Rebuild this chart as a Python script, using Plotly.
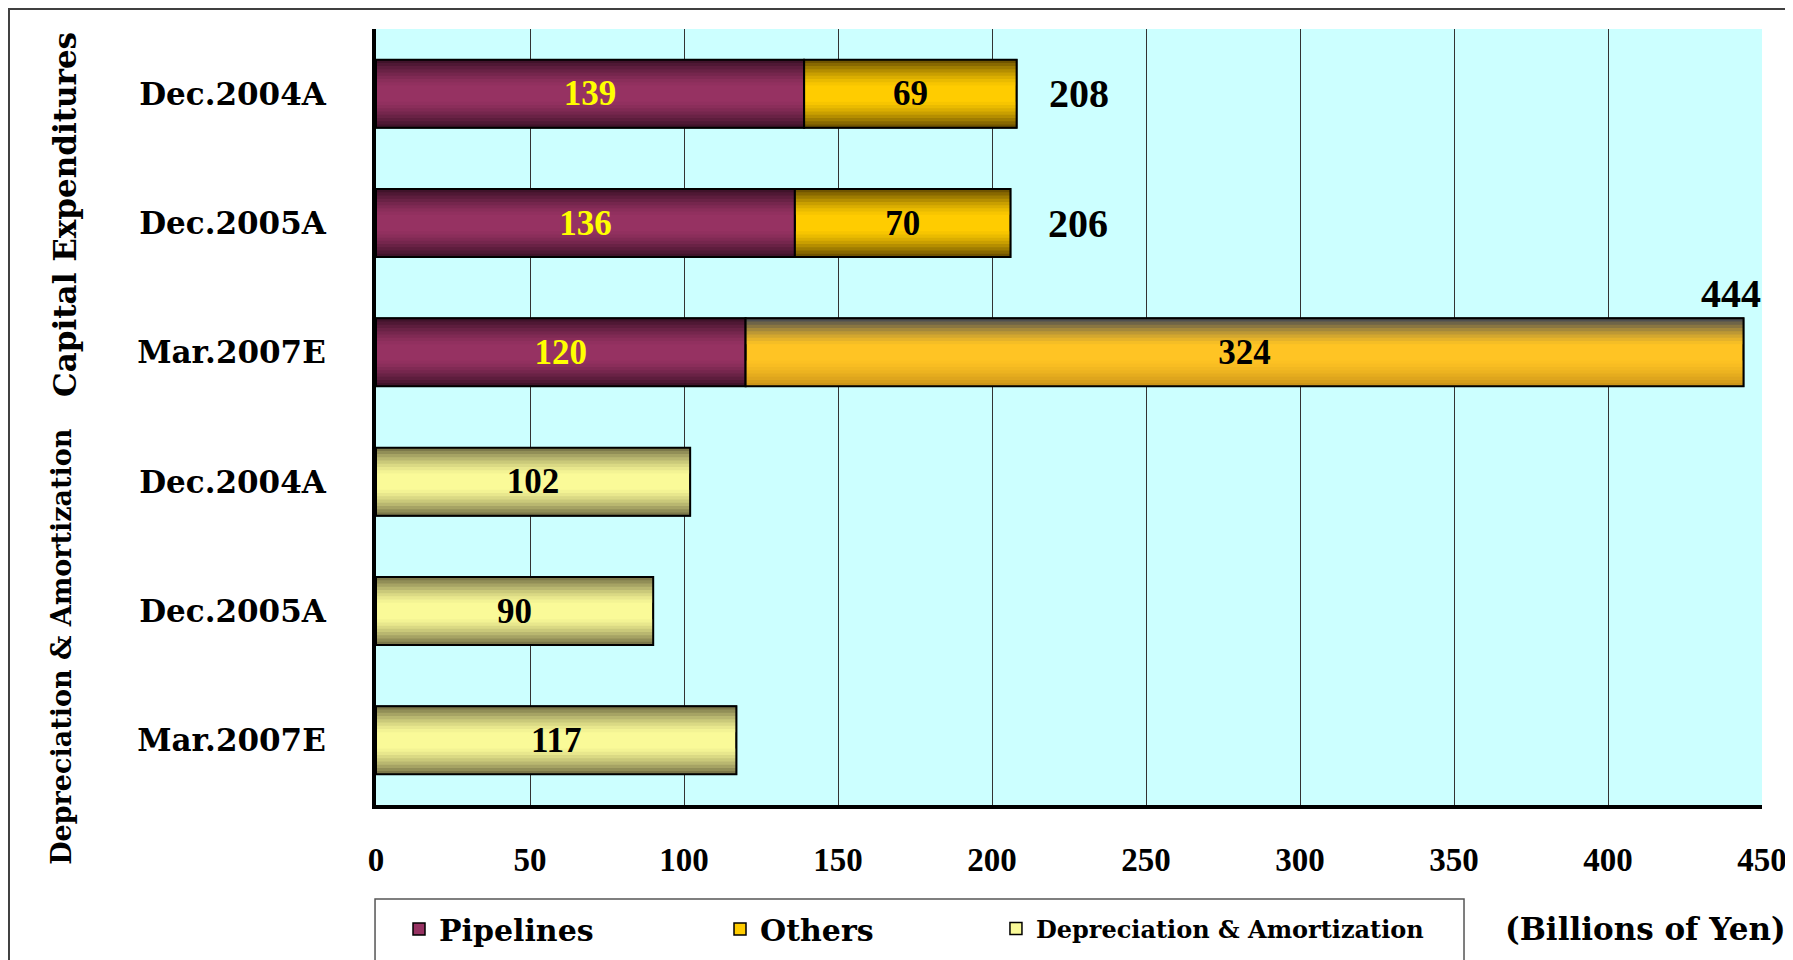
import plotly.graph_objects as go

# ---------------- data ----------------
periods = ["Dec.2004A", "Dec.2005A", "Mar.2007E"]
capex_rows = [0, 1, 2]
da_rows = [3, 4, 5]
pipelines = [139, 136, 120]
others = [69, 70, 324]
depreciation = [102, 90, 117]
group_titles = ["Capital Expenditures", "Depreciation & Amortization"]
x_ticks = [0, 50, 100, 150, 200, 250, 300, 350, 400, 450]
series_names = ["Pipelines", "Others", "Depreciation & Amortization"]
unit_label = "(Billions of Yen)"

totals = [p + o for p, o in zip(pipelines, others)]

# ---------------- style ----------------
W = 0.526          # bar thickness (category units)
N = 8              # gradient bands
DEPTH = 0.38 * W   # depth of shading from each edge

SERIF = "DejaVu Serif"
NUMF = "Liberation Serif"

PIPE_C = [(150, 50, 98)] * 3
PIPE_E = [(64, 19, 42)] * 3
OTH_C = [(255, 204, 0), (255, 204, 0), (255, 196, 36)]
OTH_TOP = [(112, 84, 0), (112, 84, 0), (80, 80, 80)]
OTH_BOT = [(112, 84, 0), (112, 84, 0), (205, 150, 25)]
DA_C = [(250, 250, 152)] * 3
DA_E = [(124, 120, 74)] * 3


def rgb(c):
    return "rgb(%d,%d,%d)" % tuple(int(round(v)) for v in c)


def mix(a, b, t):
    return tuple(a[i] + (b[i] - a[i]) * t for i in range(3))


fig = go.Figure()


def add_series(rows, vals, base, centers, tops, bots, name, legend, textcolor):
    # base bar (solid centre colour, carries the legend entry)
    fig.add_trace(go.Bar(
        y=rows, x=vals, base=base, orientation="h", width=W,
        marker=dict(color=[rgb(c) for c in centers],
                    line=dict(color="black", width=1.5)),
        name=name, legend=legend, showlegend=True, hoverinfo="skip",
    ))
    # shading bands towards top and bottom edges
    for k in range(N):
        d = DEPTH * (1 - k / N)
        t = ((k + 1) / N) ** 1.4
        for off, edges in ((-W / 2, tops), (W / 2 - d, bots)):
            fig.add_trace(go.Bar(
                y=rows, x=vals, base=base, orientation="h",
                width=d, offset=off,
                marker=dict(color=[rgb(mix(c, e, t)) for c, e in zip(centers, edges)],
                            line=dict(width=0)),
                showlegend=False, hoverinfo="skip",
            ))
    # outline + value labels
    fig.add_trace(go.Bar(
        y=rows, x=vals, base=base, orientation="h", width=W,
        marker=dict(color="rgba(0,0,0,0)", line=dict(color="black", width=2)),
        text=[str(v) for v in vals], textposition="inside",
        insidetextanchor="middle", constraintext="none", textangle=0,
        insidetextfont=dict(family=NUMF, size=35, color=textcolor, weight="bold"),
        showlegend=False, hoverinfo="skip",
    ))


add_series(capex_rows, pipelines, [0, 0, 0], PIPE_C, PIPE_E, PIPE_E,
           series_names[0], "legend", "#FFFF00")
add_series(capex_rows, others, pipelines, OTH_C, OTH_TOP, OTH_BOT,
           series_names[1], "legend2", "black")
add_series(da_rows, depreciation, [0, 0, 0], DA_C, DA_E, DA_E,
           series_names[2], "legend3", "black")

# ---------------- annotations ----------------
annotations = []
shifts = [30, 36]
for i in range(2):
    annotations.append(dict(
        x=totals[i], y=capex_rows[i], xref="x", yref="y", text=str(totals[i]),
        showarrow=False, xanchor="left", yanchor="middle", xshift=shifts[i],
        font=dict(family=NUMF, size=40, color="black", weight="bold")))
annotations.append(dict(
    x=totals[2], y=capex_rows[2], xref="x", yref="y", text=str(totals[2]),
    showarrow=False, xanchor="right", yanchor="bottom", xshift=19, yshift=34,
    font=dict(family=NUMF, size=40, color="black", weight="bold")))

annotations.append(dict(
    x=-0.2244, y=0.7616, xref="paper", yref="paper", text=group_titles[0],
    textangle=-90, showarrow=False, xanchor="center", yanchor="middle",
    font=dict(family=SERIF, size=31, color="black", weight="bold")))
annotations.append(dict(
    x=-0.2266, y=0.205, xref="paper", yref="paper", text=group_titles[1],
    textangle=-90, showarrow=False, xanchor="center", yanchor="middle",
    font=dict(family=SERIF, size=27, color="black", weight="bold")))
annotations.append(dict(
    x=0.9163, y=-0.1598, xref="paper", yref="paper", text=unit_label,
    showarrow=False, xanchor="center", yanchor="middle",
    font=dict(family=SERIF, size=31, color="black", weight="bold")))

shapes = [
    # outer frame
    dict(type="rect", xref="paper", yref="paper", x0=-0.2648, x1=1.06,
         y0=-0.3, y1=1.0258, line=dict(color="#404040", width=2),
         fillcolor="rgba(0,0,0,0)", layer="above"),
    # legend box
    dict(type="rect", xref="paper", yref="paper", x0=-0.0007, x1=0.785,
         y0=-0.3, y1=-0.1211, line=dict(color="#555555", width=1.5),
         fillcolor="rgba(0,0,0,0)", layer="above"),
]

leg_common = dict(orientation="h", yanchor="middle", y=-0.1598, xanchor="left",
                  bgcolor="rgba(0,0,0,0)", borderwidth=0)

fig.update_layout(
    width=1785, height=952,
    margin=dict(l=368, r=31, t=21, b=155, autoexpand=False),
    paper_bgcolor="white", plot_bgcolor="#CCFFFF",
    barmode="overlay",
    showlegend=True,
    legend=dict(**leg_common, x=0.0166,
                font=dict(family=SERIF, size=30, color="black", weight="bold")),
    legend2=dict(**leg_common, x=0.2482,
                 font=dict(family=SERIF, size=30, color="black", weight="bold")),
    legend3=dict(**leg_common, x=0.4473,
                 font=dict(family=SERIF, size=24, color="black", weight="bold")),
    annotations=annotations,
    shapes=shapes,
    xaxis=dict(range=[0, 450], tickvals=x_ticks, ticktext=[str(v) for v in x_ticks],
               showgrid=True, gridcolor="#333333", gridwidth=1,
               showline=True, linecolor="black", linewidth=4, zeroline=False,
               ticks="", ticklabelstandoff=22, automargin=False,
               tickfont=dict(family=NUMF, size=33, color="black", weight="bold")),
    yaxis=dict(range=[5.5, -0.5], tickvals=capex_rows + da_rows,
               ticktext=periods + periods, showgrid=False,
               showline=True, linecolor="black", linewidth=4, zeroline=False,
               ticks="", ticklabelstandoff=40, automargin=False,
               tickfont=dict(family=SERIF, size=31, color="black", weight="bold")),
)

fig.write_html("out.html")
